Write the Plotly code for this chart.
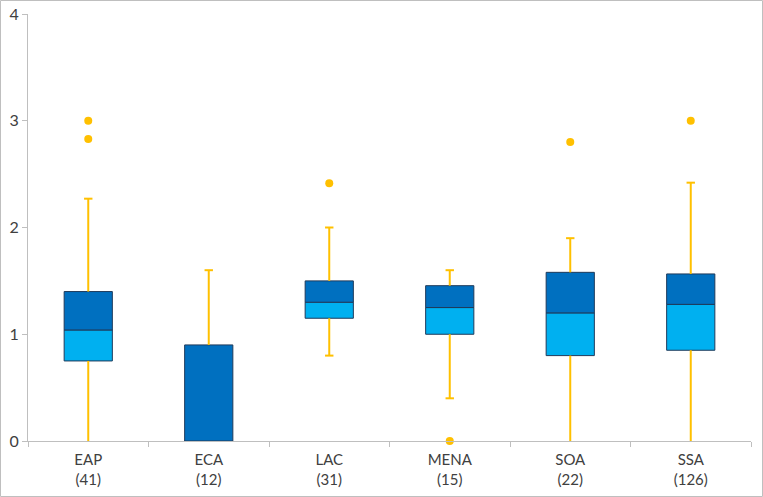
import plotly.graph_objects as go

regions = ["EAP", "ECA", "LAC", "MENA", "SOA", "SSA"]
counts = [41, 12, 31, 15, 22, 126]
whisker_low = [0.0, 0.0, 0.80, 0.40, 0.0, 0.0]
q1 = [0.75, 0.0, 1.15, 1.00, 0.80, 0.85]
median = [1.04, 0.0, 1.30, 1.25, 1.20, 1.28]
q3 = [1.40, 0.90, 1.50, 1.455, 1.58, 1.565]
whisker_high = [2.27, 1.60, 2.00, 1.60, 1.90, 2.42]
outlier_region = ["EAP", "EAP", "LAC", "MENA", "SOA", "SSA"]
outlier_value = [3.0, 2.83, 2.415, 0.0, 2.80, 3.0]

labels = [f"{r}<br>({c})" for r, c in zip(regions, counts)]
lab = dict(zip(regions, labels))

GOLD = "#FFC000"
LIGHT = "#00B0F0"
DARK = "#0070C0"
EDGE = "#1F3A5A"
AXIS = "#BFBFBF"

fig = go.Figure()

# whisker lines built from the data (None separates segments)
wx, wy = [], []
for lb, lo, a, b, hi in zip(labels, whisker_low, q1, q3, whisker_high):
    if a > lo:
        wx += [lb, lb, None]
        wy += [lo, a, None]
    if hi > b:
        wx += [lb, lb, None]
        wy += [b, hi, None]
fig.add_trace(go.Scatter(x=wx, y=wy, mode="lines",
                         line=dict(color=GOLD, width=2),
                         hoverinfo="skip", showlegend=False))
# whisker caps
cx = [lb for lb, lo, a in zip(labels, whisker_low, q1) if a > lo and lo > 0] + \
     [lb for lb, b, hi in zip(labels, q3, whisker_high) if hi > b]
cy = [lo for lo, a in zip(whisker_low, q1) if a > lo and lo > 0] + \
     [hi for b, hi in zip(q3, whisker_high) if hi > b]
fig.add_trace(go.Scatter(x=cx, y=cy, mode="markers",
                         marker=dict(symbol="line-ew", size=6,
                                     line=dict(color=GOLD, width=2)),
                         hoverinfo="skip", showlegend=False))

# box lower half (Q1 -> median)
fig.add_trace(go.Bar(
    x=labels, y=[m - a for m, a in zip(median, q1)], base=q1,
    width=0.4, marker=dict(color=LIGHT, line=dict(color=EDGE, width=1)),
    showlegend=False))
# box upper half (median -> Q3)
fig.add_trace(go.Bar(
    x=labels, y=[a - m for a, m in zip(q3, median)], base=median,
    width=0.4, marker=dict(color=DARK, line=dict(color=EDGE, width=1)),
    showlegend=False))

# outliers
fig.add_trace(go.Scatter(
    x=[lab[r] for r in outlier_region], y=outlier_value, mode="markers",
    marker=dict(color=GOLD, size=8), showlegend=False, cliponaxis=False))

W, H = 763, 497
ml, mr, mt, mb = 28, 12, 14, 56
pw, ph = W - ml - mr, H - mt - mb

fig.update_layout(
    width=W, height=H, barmode="overlay",
    margin=dict(l=ml, r=mr, t=mt, b=mb, autoexpand=False),
    paper_bgcolor="white", plot_bgcolor="white",
    font=dict(family="Lato, Open Sans, sans-serif", size=14, color="#404040"),
    xaxis=dict(type="category", showline=True, linecolor=AXIS, linewidth=1,
               ticks="outside", tickson="boundaries", ticklen=5, tickcolor=AXIS,
               showgrid=False, zeroline=False, tickfont=dict(size=15),
               ticklabelstandoff=5, automargin=False),
    yaxis=dict(range=[0, 4], dtick=1, showline=True, linecolor=AXIS, linewidth=1,
               ticks="outside", ticklen=5, tickcolor=AXIS, showgrid=False,
               zeroline=False, tickfont=dict(size=16), automargin=False),
    shapes=[dict(type="rect", xref="paper", yref="paper",
                 x0=-(ml - 0.5) / pw, x1=(W - ml - 0.5) / pw,
                 y0=-(mb - 0.5) / ph, y1=(H - mb - 0.5) / ph,
                 line=dict(color="#BFBFBF", width=1), layer="below")],
)

fig.write_html("out.html", config={"displayModeBar": False},
               post_script="document.body.style.margin='0';document.body.style.overflow='hidden';")
